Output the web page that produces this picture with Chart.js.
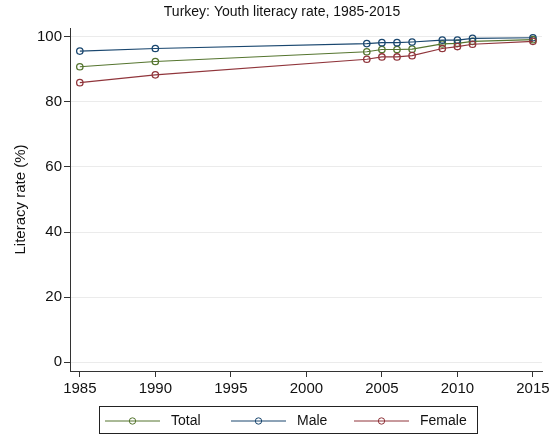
<!DOCTYPE html>
<html>
<head>
<meta charset="utf-8">
<script src="https://cdn.jsdelivr.net/npm/chart.js@4.4.1/dist/chart.umd.min.js"></script>
<style>
  html, body { margin: 0; padding: 0; background: #fff; }
  #wrap { width: 557px; height: 435px; }
</style>
</head>
<body>
<div id="wrap"><canvas id="literacy-chart" width="557" height="435"></canvas></div>
<script>
// values
var years = [1985, 1990, 2004, 2005, 2006, 2007, 2009, 2010, 2011, 2015];
var totalRate = [90.8, 92.4, 95.4, 96.1, 96.1, 96.2, 97.8, 98.0, 98.6, 99.1];
var maleRate = [95.6, 96.4, 97.9, 98.2, 98.2, 98.4, 99.0, 99.0, 99.5, 99.7];
var femaleRate = [85.9, 88.3, 93.1, 93.8, 93.8, 94.2, 96.4, 97.0, 97.7, 98.6];
var xTicks = [1985, 1990, 1995, 2000, 2005, 2010, 2015];
var yTicks = [0, 20, 40, 60, 80, 100];
var seriesNames = ['Total', 'Male', 'Female'];
var seriesColours = ['#55752f', '#1a476f', '#90353b'];
var chartTitle = 'Turkey: Youth literacy rate, 1985-2015';

Chart.defaults.font.family = "'Liberation Sans', Arial, sans-serif";
Chart.defaults.color = '#111';

function toPoints(values) {
	return years.map(function(year, i) {
		return { x: year, y: values[i] };
	});
}

var seriesValues = [totalRate, maleRate, femaleRate];
var datasets = [];
seriesNames.forEach(function(name, i) {
	datasets.push({
		label: name,
		data: toPoints(seriesValues[i]),
		borderColor: seriesColours[i],
		backgroundColor: 'transparent',
		borderWidth: 1.2,
		pointRadius: 3.2,
		pointBorderWidth: 1.3,
		pointBackgroundColor: 'transparent',
		pointBorderColor: seriesColours[i],
		tension: 0,
		order: 2 - i
	});
});

// title sits a little right of the canvas centre, like the original
var stataTitle = {
	id: 'stataTitle',
	afterDraw: function(chart) {
		var ctx = chart.ctx;
		ctx.save();
		ctx.font = "14px 'Liberation Sans', Arial, sans-serif";
		ctx.fillStyle = '#111';
		ctx.textAlign = 'center';
		ctx.textBaseline = 'middle';
		ctx.fillText(chartTitle, 282, 12);
		ctx.restore();
	}
};

// stata style boxed legend, drawn below the axis
var boxLegend = {
	id: 'boxLegend',
	afterDraw: function(chart) {
		var ctx = chart.ctx;
		var left = 99, top = 406, width = 378, height = 27;
		ctx.save();
		ctx.strokeStyle = '#222';
		ctx.lineWidth = 1;
		ctx.strokeRect(left + 0.5, top + 0.5, width, height);
		var cy = top + 15;
		var itemX = [105, 231, 354];
		ctx.font = "14px 'Liberation Sans', Arial, sans-serif";
		ctx.textBaseline = 'middle';
		seriesNames.forEach(function(name, i) {
			var x0 = itemX[i];
			ctx.strokeStyle = seriesColours[i];
			ctx.lineWidth = 1;
			ctx.beginPath();
			ctx.moveTo(x0, cy);
			ctx.lineTo(x0 + 55, cy);
			ctx.stroke();
			ctx.beginPath();
			ctx.arc(x0 + 27.5, cy, 3.2, 0, Math.PI * 2);
			ctx.stroke();
			ctx.fillStyle = '#111';
			ctx.fillText(name, x0 + 66, cy);
		});
		ctx.restore();
	}
};

var whiteBg = {
	id: 'whiteBg',
	beforeDraw: function(chart) {
		var ctx = chart.ctx;
		ctx.save();
		ctx.fillStyle = '#fff';
		ctx.fillRect(0, 0, chart.width, chart.height);
		ctx.restore();
	}
};

const chartElem = document.getElementById('literacy-chart');

var literacyChart = new Chart(chartElem, {
	type: 'line',
	data: { datasets: datasets },
	plugins: [whiteBg, stataTitle, boxLegend],
	options: {
		responsive: false,
		animation: false,
		layout: {
			padding: { left: 0, right: 15, top: 28, bottom: 34 }
		},
		plugins: {
			legend: { display: false },
			tooltip: { enabled: false },
			title: { display: false }
		},
		scales: {
			x: {
				type: 'linear',
				min: 1984.35,
				max: 2015.6,
				afterBuildTicks: function(scale) {
					scale.ticks = xTicks.map(function(v) { return { value: v }; });
				},
				afterFit: function(scale) {
					scale.height = 30;
				},
				ticks: {
					color: '#111',
					font: { size: 15 },
					padding: 3,
					maxRotation: 0,
					autoSkip: false,
					callback: function(value) { return String(value); }
				},
				grid: {
					drawOnChartArea: false,
					tickLength: 6,
					tickColor: '#333'
				},
				border: { color: '#333', width: 1 }
			},
			y: {
				min: -2.7,
				max: 102.7,
				afterBuildTicks: function(scale) {
					scale.ticks = yTicks.map(function(v) { return { value: v }; });
				},
				afterFit: function(scale) {
					scale.width = 70;
				},
				title: {
					display: true,
					text: 'Literacy rate (%)',
					color: '#111',
					font: { size: 15 },
					padding: { top: 12, bottom: 0 }
				},
				ticks: {
					color: '#111',
					font: { size: 15 },
					padding: 2
				},
				grid: {
					color: '#ebebeb',
					tickColor: '#333',
					tickLength: 6
				},
				border: { color: '#333', width: 1 }
			}
		}
	}
});
</script>
</body>
</html>
